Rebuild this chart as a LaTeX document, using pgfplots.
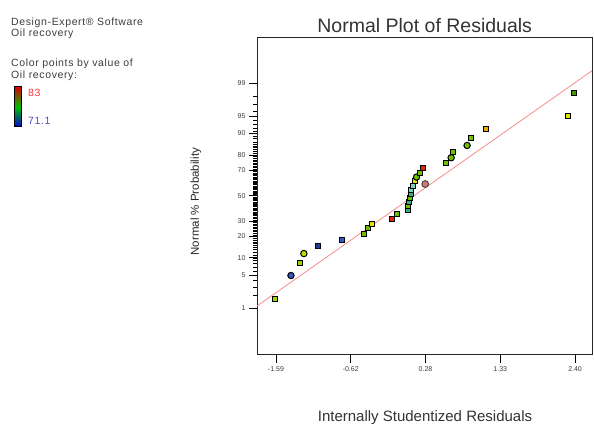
\documentclass[border=0pt]{standalone}
\usepackage{fontspec}
\setmainfont{Liberation Sans}
\newfontfamily\widefont[LetterSpace=6]{Liberation Sans}
\usepackage{pgfplots}
\pgfplotsset{compat=1.18}

\definecolor{dxblue}{RGB}{55,85,195}
\definecolor{dxdkblue}{RGB}{35,60,150}
\definecolor{dxgreen}{RGB}{110,190,0}
\definecolor{dxlime}{RGB}{155,210,0}
\definecolor{dxdkgreen}{RGB}{70,150,0}
\definecolor{dxyellow}{RGB}{225,225,0}
\definecolor{dxorange}{RGB}{230,170,0}
\definecolor{dxred}{RGB}{225,35,20}
\definecolor{dxteal}{RGB}{60,170,140}
\definecolor{dxcyan}{RGB}{110,215,195}
\definecolor{dxpink}{RGB}{215,115,115}
\definecolor{dxline}{RGB}{245,140,140}
\definecolor{dxtext}{RGB}{60,60,60}

% normal-probability scale: percent -> z (approximation, used for minor ticks only)
\pgfmathdeclarefunction{probit}{1}{%
  \begingroup
  \pgfmathparse{#1<0.5 ? #1 : 1-#1}\let\q\pgfmathresult
  \pgfmathparse{sqrt(-2*ln(\q))}\let\t\pgfmathresult
  \pgfmathparse{\t-(2.515517+0.802853*\t+0.010328*\t*\t)/(1+1.432788*\t+0.189269*\t*\t+0.001308*\t*\t*\t)}\let\z\pgfmathresult
  \pgfmathparse{#1<0.5 ? -\z : \z}%
  \pgfmathsmuggle\pgfmathresult
  \endgroup}
\def\minorz{}
\foreach \p in {2,...,98}{%
  \pgfmathparse{probit(\p/100)}%
  \ifx\minorz\empty\xdef\minorz{\pgfmathresult}\else\xdef\minorz{\minorz,\pgfmathresult}\fi}

% residual, z of (i-0.5)/30, colour class
\pgfplotstableread{
x y c
-1.597 -2.128 l
-1.390 -1.645 bc
-1.271 -1.383 l
-1.218 -1.192 yc
-1.035 -1.036 b
-0.708 -0.903 k
-0.416 -0.783 g
-0.357 -0.674 g
-0.304 -0.573 y
-0.038 -0.477 r
0.019 -0.385 g
0.170 -0.297 t
0.172 -0.210 g
0.179 -0.126 t
0.192 -0.042 g
0.205 0.042 t
0.215 0.126 c
0.232 0.210 c
0.259 0.297 y
0.285 0.385 gc
0.325 0.477 g
0.378 0.573 r
0.680 0.674 g
0.747 0.783 gc
0.777 0.903 g
0.960 1.036 gc
1.013 1.192 g
1.207 1.383 o
2.307 1.645 y
2.387 2.128 d
0.401 0.241 pc
}\resid

\begin{document}
\begin{tikzpicture}
\path[use as bounding box] (0,0) rectangle (594pt,423pt);
\begin{axis}[
  at={(257pt,68pt)}, anchor=south west,
  scale only axis, width=335pt, height=317pt,
  xmin=-1.843, xmax=2.626, ymin=-3.284, ymax=3.252,
  axis line style={line width=1pt, black!85},
  xtick={-1.59,-0.5925,0.405,1.4025,2.40},
  xticklabels={-1.59,-0.62,0.28,1.33,2.40},
  ytick={-2.326,-1.645,-1.2816,-0.8416,-0.5244,0,0.5244,0.8416,1.2816,1.645,2.326},
  yticklabels={1,5,10,20,30,50,70,80,90,95,99},
  minor ytick/.expand once=\minorz,
  tick align=outside, xtick pos=left, ytick pos=left,
  major tick length=8pt, minor tick length=4pt,
  every tick/.style={black, line width=0.8pt},
  every minor tick/.style={black, line width=0.5pt},
  tick label style={font=\fontsize{7}{8}\selectfont, text=dxtext},
  /pgf/number format/assume math mode=true,
  scatter/classes={
    g={mark=square*, draw=black, fill=dxgreen},
    l={mark=square*, draw=black, fill=dxlime},
    d={mark=square*, draw=black, fill=dxdkgreen},
    y={mark=square*, draw=black, fill=dxyellow},
    o={mark=square*, draw=black, fill=dxorange},
    r={mark=square*, draw=black, fill=dxred},
    t={mark=square*, draw=black, fill=dxteal},
    c={mark=square*, draw=black, fill=dxcyan},
    b={mark=square*, draw=black, fill=dxdkblue},
    k={mark=square*, draw=black, fill=dxblue},
    bc={mark=*, draw=black, fill=dxblue, mark size=3.2pt},
    yc={mark=*, draw=black, fill=dxlime!70!yellow, mark size=3.2pt},
    gc={mark=*, draw=black, fill=dxgreen, mark size=3.2pt},
    pc={mark=*, draw=black!70, fill=dxpink, mark size=3.4pt}},
]
\addplot[dxline, line width=0.8pt] coordinates {(-1.843,-2.274) (2.626,2.577)};
\addplot[scatter, only marks, scatter src=explicit symbolic, mark size=2.5pt,
  mark options={line width=1pt}] table[x=x, y=y, meta=c] {\resid};
\end{axis}

\node[anchor=base, font=\fontsize{19.5}{22}\selectfont, text=black!80] at (424.7pt,390.3pt) {Normal Plot of Residuals};
\node[anchor=base, font=\fontsize{15}{17}\selectfont, text=black!80] at (425pt,2pt) {Internally Studentized Residuals};
\node[rotate=90, font=\fontsize{11.5}{13}\selectfont, text=black!85] at (196pt,221.3pt) {Normal \% Probability};

\begin{scope}[font=\widefont\fontsize{10.5}{12}\selectfont, text=dxtext]
\node[anchor=base west, inner sep=0] at (11pt,397pt) {Design-Expert® Software};
\node[anchor=base west, inner sep=0] at (11pt,386pt) {Oil recovery};
\node[anchor=base west, inner sep=0] at (11pt,356.5pt) {Color points by value of};
\node[anchor=base west, inner sep=0] at (11pt,344.5pt) {Oil recovery:};
\node[anchor=base west, inner sep=0, text=red!80] at (28pt,326.5pt) {83};
\node[anchor=base west, inner sep=0, text=blue!60!black!70!white] at (28pt,298pt) {71.1};
\end{scope}
\shade[top color=red!85!black, bottom color=blue!80!black, middle color=green!75!black] (14pt,296pt) rectangle (21pt,336pt);
\draw[line width=1pt, black] (14pt,296pt) rectangle (21pt,336pt);
\end{tikzpicture}
\end{document}
